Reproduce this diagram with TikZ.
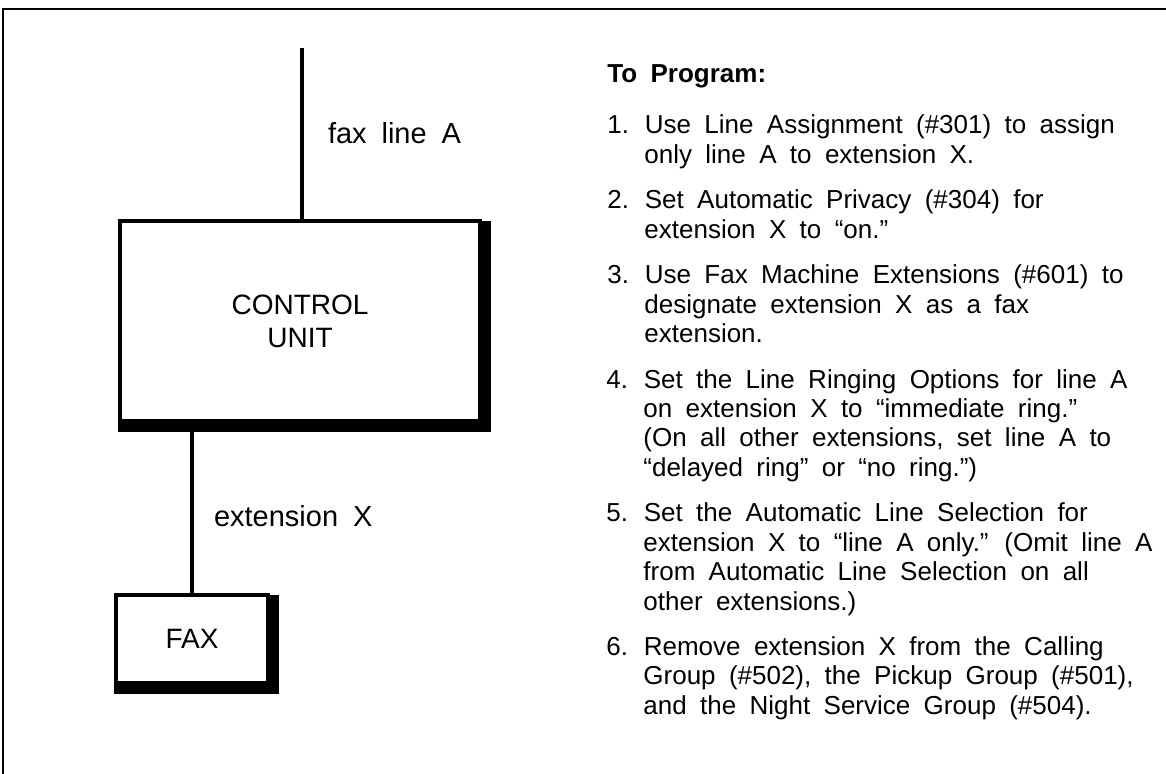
\documentclass[tikz,border=0pt]{standalone}
\usepackage{fontspec}
\setmainfont{Liberation Sans}[WordSpace=1.85]
\usetikzlibrary{positioning,backgrounds}
\newcommand{\contline}{\hspace*{18.5pt}}

\begin{document}
\begin{tikzpicture}[x=0.5pt, y=-0.5pt,
        unitbox/.style={draw, fill=white, line width=1.8pt, inner sep=0pt, align=center,
                        font=\fontsize{14}{16.5}\selectfont},
        wire/.style={line width=2pt},
        lbl/.style={inner sep=0pt, font=\fontsize{14.5}{17}\selectfont},
        progitem/.style={anchor=base west, align=left, inner sep=0pt,
                         font=\fontsize{13}{14.7}\selectfont}]
    %Rahmen
    \useasboundingbox (0,0) rectangle (1166,774);
    \draw[line width=1.35pt] (3,774) -- (3,9) -- (1166,9);
    % Kaesten
    \node[unitbox, minimum width=180pt, minimum height=100pt] (cu) at (300,321) {CONTROL\\UNIT};
    \node[unitbox, minimum width=76pt, minimum height=44pt] (fax) at (192,639) {FAX};
    % Schatten
    \begin{scope}[on background layer]
        \fill ([yshift=-4.8pt]cu.south west) rectangle ([xshift=4.8pt,yshift=-1pt]cu.north east);
        \fill ([yshift=-4.8pt]fax.south west) rectangle ([xshift=4.8pt,yshift=-1pt]fax.north east);
    \end{scope}
    % Leitungen
    \coordinate (lineA) at (302,48);
    \draw[wire] (lineA) -- node[lbl, right=12pt] (lineAlbl) {fax line A} (lineA |- cu.north);
    \draw[wire] (cu.south -| fax.north) -- node[lbl, pos=0.55, right=10pt] (extlbl) {extension X} (fax.north);
    % Programmierung (Koordinate = Grundlinie der letzten Zeile)
    \node[anchor=base west, inner sep=0pt, font=\bfseries\fontsize{13}{15}\selectfont] (prog) at (607,83) {To Program:};
    \node[progitem] (item1) at (607,163.4) {1. Use Line Assignment (\#301) to assign\\
        \contline only line A to extension X.};
    \node[progitem] (item2) at (607,238.3) {2. Set Automatic Privacy (\#304) for\\
        \contline extension X to ``on.''};
    \node[progitem] (item3) at (607,342.6) {3. Use Fax Machine Extensions (\#601) to\\
        \contline designate extension X as a fax\\
        \contline extension.};
    \node[progitem] (item4) at (606,476.3) {4. Set the Line Ringing Options for line A\\
        \contline on extension X to ``immediate ring.''\\
        \contline (On all other extensions, set line A to\\
        \contline ``delayed ring'' or ``no ring.'')};
    \node[progitem] (item5) at (606,610) {5. Set the Automatic Line Selection for\\
        \contline extension X to ``line A only.'' (Omit line A\\
        \contline from Automatic Line Selection on all\\
        \contline other extensions.)};
    \node[progitem] (item6) at (606,714.3) {6. Remove extension X from the Calling\\
        \contline Group (\#502), the Pickup Group (\#501),\\
        \contline and the Night Service Group (\#504).};
\end{tikzpicture}
\end{document}
